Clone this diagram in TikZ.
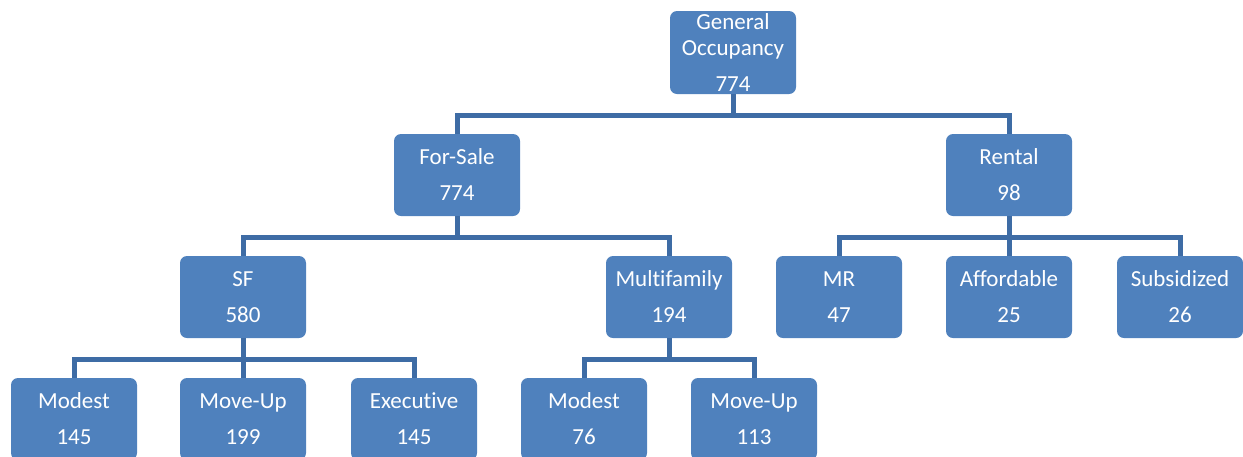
\documentclass[tikz,border=0pt]{standalone}
\usepackage{fontspec}
\setmainfont{Carlito}[Ligatures=NoCommon]
\definecolor{boxblue}{RGB}{79,129,189}
\definecolor{lineblue}{RGB}{62,108,165}
\begin{document}
\begin{tikzpicture}[x=1pt,y=-1pt,
  orgbox/.style={fill=boxblue, draw=none, rounded corners=7pt, minimum width=126pt, minimum height=82pt,
    inner sep=0pt, align=center, text=white, font=\fontsize{23}{26}\selectfont},
  conn/.style={draw=lineblue, line width=5pt}]
\useasboundingbox (0,0) rectangle (1243,456);
\clip (0,0) rectangle (1243,456);
\node[orgbox, minimum height=83pt] (go) at (733,52.5) {General\\Occupancy\\[10pt]774};
\node[orgbox] (fs) at (457,175) {For-Sale\\[10pt]774};
\node[orgbox] (re) at (1009,175) {Rental\\[10pt]98};
\node[orgbox] (sf) at (243,297) {SF\\[10pt]580};
\node[orgbox] (mf) at (669,297) {Multifamily\\[10pt]194};
\node[orgbox] (mr) at (839,297) {MR\\[10pt]47};
\node[orgbox] (af) at (1009,297) {Affordable\\[10pt]25};
\node[orgbox] (su) at (1180,297) {Subsidized\\[10pt]26};
\node[orgbox] (m1) at (74,419) {Modest\\[10pt]145};
\node[orgbox] (u1) at (243,419) {Move-Up\\[10pt]199};
\node[orgbox] (ex) at (414,419) {Executive\\[10pt]145};
\node[orgbox] (m2) at (584,419) {Modest\\[10pt]76};
\node[orgbox] (u2) at (754,419) {Move-Up\\[10pt]113};
\foreach \p/\c in {go/fs,go/re,fs/sf,fs/mf,re/mr,re/af,re/su,sf/m1,sf/u1,sf/ex,mf/m2,mf/u2}
  \draw[conn] (\p.south) -- ++(0,21) -| (\c.north);
\end{tikzpicture}
\end{document}
